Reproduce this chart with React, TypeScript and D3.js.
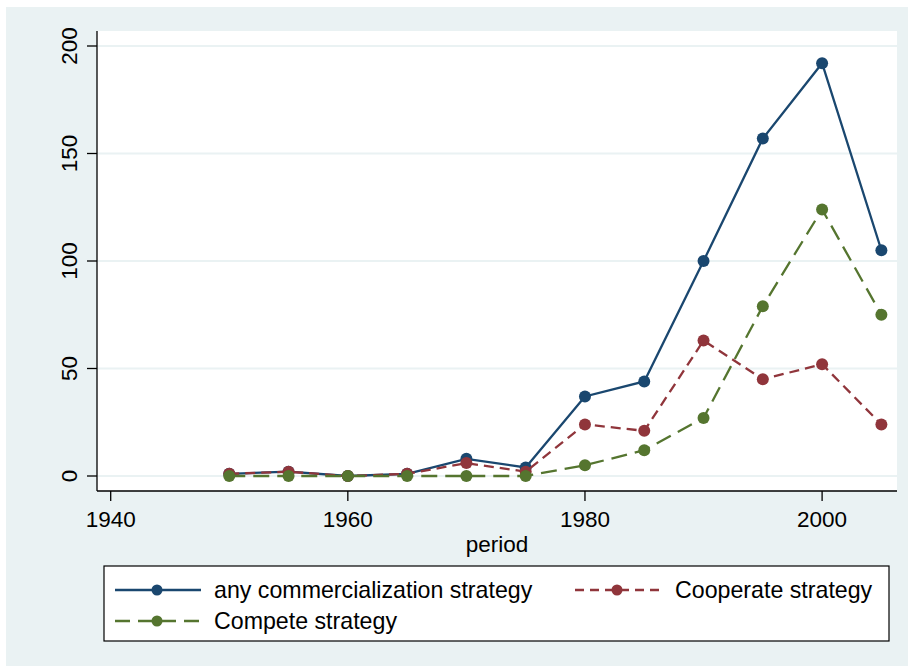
import React from "react";
import * as d3 from "d3";

const periods = [1950, 1955, 1960, 1965, 1970, 1975, 1980, 1985, 1990, 1995, 2000, 2005];
const anyStrategy = [1, 2, 0, 1, 8, 4, 37, 44, 100, 157, 192, 105];
const cooperate = [1, 2, 0, 1, 6, 2, 24, 21, 63, 45, 52, 24];
const compete = [0, 0, 0, 0, 0, 0, 5, 12, 27, 79, 124, 75];
const xTicks = [1940, 1960, 1980, 2000];
const yTicks = [0, 50, 100, 150, 200];

const seriesDefs = [
  { name: "any commercialization strategy", values: anyStrategy, color: "#1a476f", dash: "none", legendDash: "none" },
  { name: "Cooperate strategy", values: cooperate, color: "#90353b", dash: "10 6", legendDash: "9 6" },
  { name: "Compete strategy", values: compete, color: "#55752f", dash: "16 8", legendDash: "15 8" },
];

const FONT = "Arial, 'Liberation Sans', Helvetica, sans-serif";
const BG = "#eaf2f3";

export default function App() {
  const plotL = 97, plotR = 897, plotT = 31, plotB = 491;
  const x = d3.scaleLinear().domain([1940, 2000]).range([110.7, 822.1]);
  const y = d3.scaleLinear().domain([0, 200]).range([476, 46]);
  const line = d3.line<number>().x((_, i) => x(periods[i])).y((d) => y(d));

  const legendItems = [
    { s: seriesDefs[0], lx: 115, tx: 214, ly: 590 },
    { s: seriesDefs[1], lx: 575, tx: 675, ly: 590 },
    { s: seriesDefs[2], lx: 115, tx: 214, ly: 621 },
  ];

  return (
    <svg width={908} height={666} style={{ position: "absolute", left: 0, top: 0 }} fontFamily={FONT}>
      <rect x={0} y={0} width={908} height={666} fill="#ffffff" />
      <rect x={6} y={7} width={902} height={659} fill={BG} />
      <rect x={plotL} y={plotT} width={plotR - plotL} height={plotB - plotT} fill="#ffffff" />
      {yTicks.map((t) => (
        <line key={"g" + t} x1={plotL} x2={plotR} y1={y(t)} y2={y(t)} stroke={BG} strokeWidth={2} />
      ))}
      <line x1={plotL} x2={plotL} y1={plotT} y2={plotB} stroke="#000" strokeWidth={1.3} />
      <line x1={plotL} x2={plotR} y1={plotB} y2={plotB} stroke="#000" strokeWidth={1.3} />
      {yTicks.map((t) => (
        <g key={"y" + t}>
          <line x1={plotL - 10} x2={plotL} y1={y(t)} y2={y(t)} stroke="#000" strokeWidth={1.3} />
          <text
            transform={`translate(77,${y(t)}) rotate(-90)`}
            textAnchor="middle"
            fontSize={22.5}
            fill="#000"
          >
            {t}
          </text>
        </g>
      ))}
      {xTicks.map((t) => (
        <g key={"x" + t}>
          <line x1={x(t)} x2={x(t)} y1={plotB} y2={plotB + 10} stroke="#000" strokeWidth={1.3} />
          <text x={x(t)} y={527} textAnchor="middle" fontSize={22.5} fill="#000">
            {t}
          </text>
        </g>
      ))}
      <text x={497} y={552} textAnchor="middle" fontSize={22.5} fill="#000">
        period
      </text>
      {seriesDefs.map((s) => (
        <g key={s.name}>
          <path
            d={line(s.values) || ""}
            fill="none"
            stroke={s.color}
            strokeWidth={2.3}
            strokeDasharray={s.dash}
          />
          {s.values.map((v, i) => (
            <circle key={i} cx={x(periods[i])} cy={y(v)} r={6} fill={s.color} />
          ))}
        </g>
      ))}
      <rect x={104} y={566} width={785} height={75} fill="#fff" stroke="#000" strokeWidth={1.2} />
      {legendItems.map(({ s, lx, tx, ly }) => (
        <g key={"l" + s.name}>
          <line x1={lx} x2={lx + 86} y1={ly} y2={ly} stroke={s.color} strokeWidth={2.3} strokeDasharray={s.legendDash} />
          <circle cx={lx + 42} cy={ly} r={5.5} fill={s.color} />
          <text x={tx} y={ly + 8} fontSize={23.2} fill="#000">
            {s.name}
          </text>
        </g>
      ))}
    </svg>
  );
}
